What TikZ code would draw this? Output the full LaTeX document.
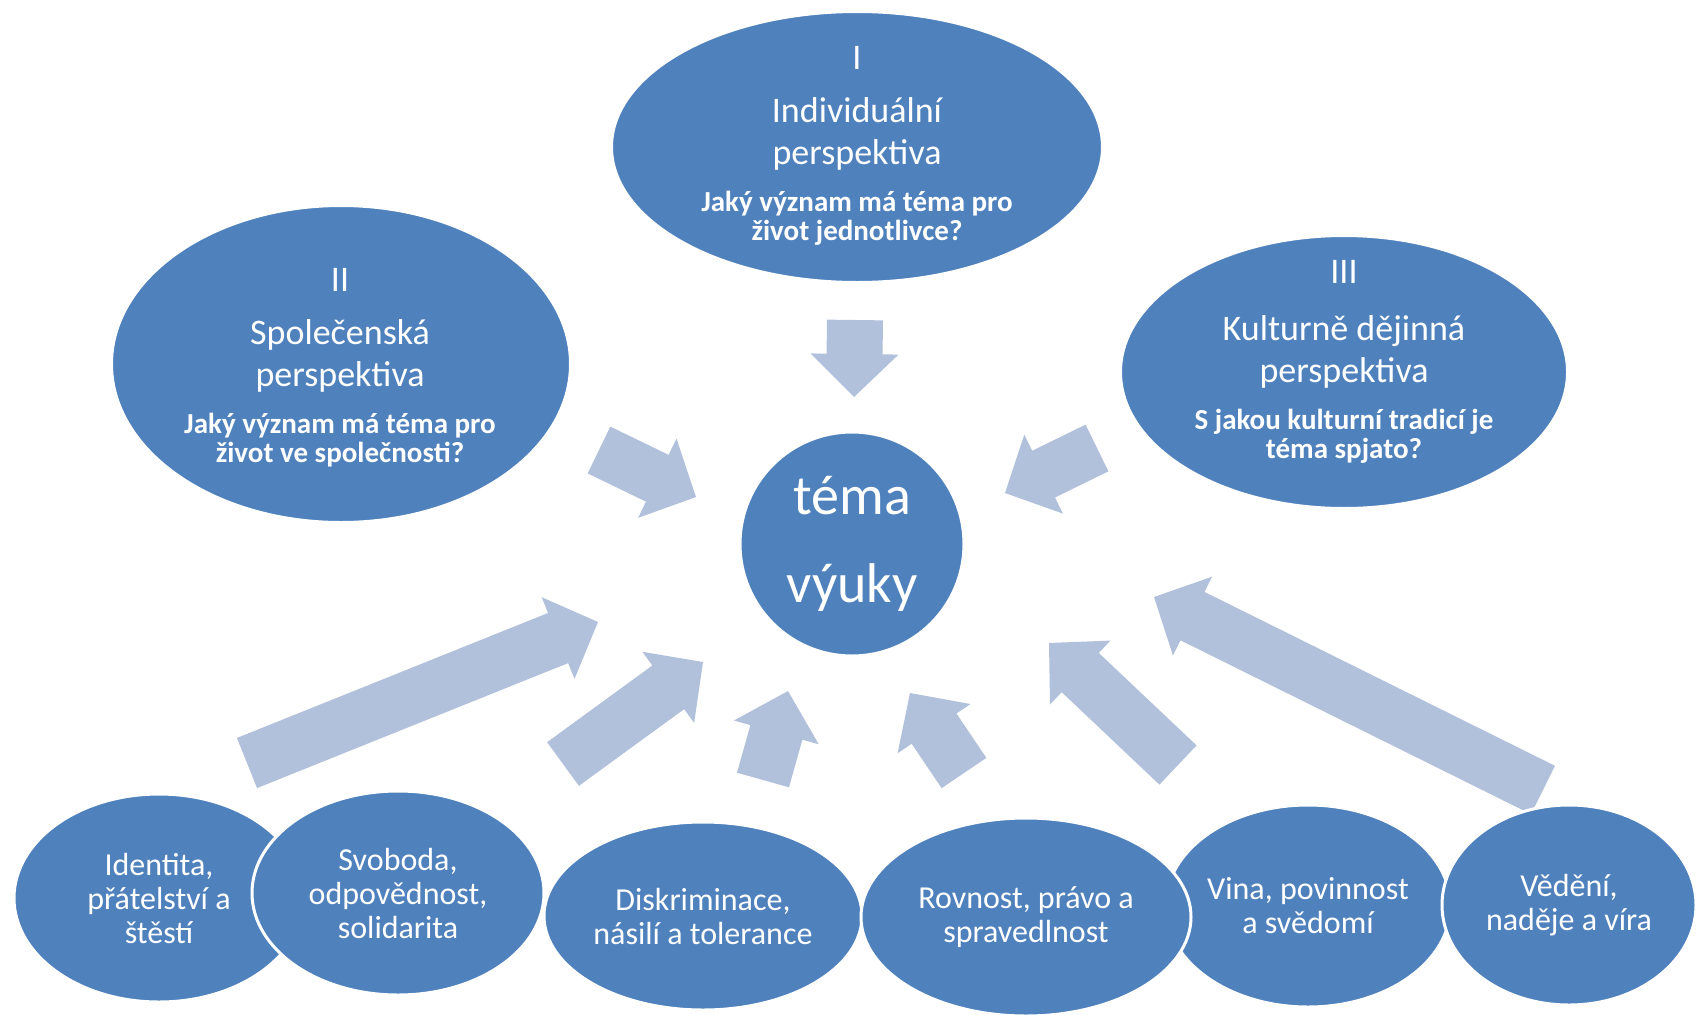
\documentclass[tikz,border=0pt]{standalone}
\usepackage{fontspec}
\setmainfont{Carlito}
\usetikzlibrary{calc,shapes.geometric}
\definecolor{nodeblue}{HTML}{4F81BD}
\definecolor{arrowblue}{HTML}{B2C1DB}
\newcommand\qfont{\fontsize{29}{29}\selectfont\bfseries}
% #1 name of head-base coordinate, #2 tail, #3 tip, #4 half shaft width
\newcommand\blockarrow[4]{%
  \coordinate (#1) at ($(#3)!43pt!(#2)$);
  \fill[arrowfill] ($(#2)!#4!90:(#3)$) -- ($(#1)!#4!90:(#3)$) -- ($(#1)!44pt!90:(#3)$) -- (#3)
    -- ($(#1)!44pt!-90:(#3)$) -- ($(#1)!#4!-90:(#3)$) -- ($(#2)!#4!-90:(#3)$) -- cycle;
}
\begin{document}
\begin{tikzpicture}[x=1pt,y=-1pt,
  bubble/.style={ellipse, fill=nodeblue, draw=white, line width=3pt, inner sep=0pt,
    text=white, align=center},
  smalltext/.style={font=\fontsize{32}{34}\selectfont},
  ptext/.style={text=white, align=center, inner sep=0pt, font=\fontsize{36}{42}\selectfont},
  arrowfill/.style={fill=arrowblue}]
\useasboundingbox[fill=white] (0,0) rectangle (1698,1015);

% arrow end points
\coordinate (aT) at (855,320);  \coordinate (aP) at (854,397);
\coordinate (bT) at (599,450);  \coordinate (bP) at (696,497);
\coordinate (cT) at (1097,448); \coordinate (cP) at (1005,493);
\coordinate (dT) at (247,763);  \coordinate (dP) at (598,622);
\coordinate (eT) at (563,764);  \coordinate (eP) at (703,662);
\coordinate (fT) at (763,780);  \coordinate (fP) at (788,691);
\coordinate (gT) at (964,773);  \coordinate (gP) at (910,693);
\coordinate (hT) at (1178,765); \coordinate (hP) at (1049,643);
\coordinate (iT) at (1543,790); \coordinate (iP) at (1154,597);

\blockarrow{aH}{aT}{aP}{28pt}
\blockarrow{bH}{bT}{bP}{26pt}
\blockarrow{cH}{cT}{cP}{26pt}
\blockarrow{dH}{dT}{dP}{27pt}
\blockarrow{eH}{eT}{eP}{27pt}
\blockarrow{fH}{fT}{fP}{27pt}
\blockarrow{gH}{gT}{gP}{27pt}
\blockarrow{hH}{hT}{hP}{27pt}
\blockarrow{iH}{iT}{iP}{27pt}

% perspectives
\node[bubble, minimum width=491pt, minimum height=271pt] (e1) at (857,147) {};
\node[ptext] (t1) at (857,146) {I\\[11pt]Individuální\\perspektiva\\[5pt]{\qfont Jaký význam má téma pro}\\[-13pt]{\qfont život jednotlivce?}};

\node[bubble, minimum width=459pt, minimum height=317pt] (e2) at (341,364) {};
\node[ptext] (t2) at (340,368) {II\\[11pt]Společenská\\perspektiva\\[5pt]{\qfont Jaký význam má téma pro}\\[-13pt]{\qfont život ve společnosti?}};

\node[bubble, minimum width=447pt, minimum height=273pt] (e3) at (1344,372) {};
\node[ptext] (t3) at (1344,362) {III\\[15pt]Kulturně dějinná\\perspektiva\\[5pt]{\qfont S jakou kulturní tradicí je}\\[-13pt]{\qfont téma spjato?}};

% centre
\node[circle, fill=nodeblue, draw=white, line width=3pt, minimum size=224pt, inner sep=0pt,
  text=white, align=center, font=\fontsize{56}{88}\selectfont] (c) at (852,544) {téma\\výuky};

% topics
\node[bubble, smalltext, minimum width=290pt, minimum height=208pt] (b1) at (159,898) {Identita,\\přátelství a\\štěstí};
\node[bubble, smalltext, minimum width=292pt, minimum height=204pt] (b2) at (398,893) {Svoboda,\\odpovědnost,\\solidarita};
\node[bubble, smalltext, minimum width=318pt, minimum height=188pt] (b3) at (703,916) {Diskriminace,\\násilí a tolerance};
\node[bubble, smalltext, minimum width=280pt, minimum height=202pt] (b5) at (1308,906) {Vina, povinnost\\a svědomí};
\node[bubble, smalltext, minimum width=330pt, minimum height=198pt] (b4) at (1026,917) {Rovnost, právo a\\spravedlnost};
\node[bubble, smalltext, minimum width=254pt, minimum height=200pt] (b6) at (1569,905) {Vědění,\\naděje a víra};
\end{tikzpicture}
\end{document}
